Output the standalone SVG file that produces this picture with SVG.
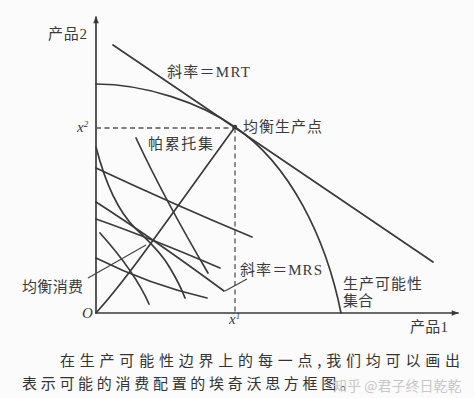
<svg xmlns="http://www.w3.org/2000/svg" width="474" height="398" viewBox="0 0 474 398">
<defs>
<style>
.ln{fill:none;stroke:#3a3a3a;stroke-width:1.7;stroke-linecap:round}
.thin{fill:none;stroke:#444;stroke-width:1.2}
.dash{fill:none;stroke:#555;stroke-width:1.3;stroke-dasharray:5 3.5}
.t{font-family:"Liberation Serif","Noto Sans CJK SC",serif;font-size:15px;fill:#3a3a3a}
.i{font-family:"Liberation Serif",serif;font-style:italic;font-size:15px;fill:#3a3a3a}
.cap{font-family:"Noto Sans CJK SC",sans-serif;font-size:15px;fill:#333}
.wm{font-family:"Noto Sans CJK SC",sans-serif;font-size:14px;fill:#c8c8c8}
</style>
<marker id="ah" viewBox="0 0 10 10" refX="9" refY="5" markerWidth="9" markerHeight="7" orient="auto" markerUnits="userSpaceOnUse">
<path d="M0,1 L10,5 L0,9 z" fill="#3a3a3a"/>
</marker>
</defs>
<rect width="474" height="398" fill="#fbfbfb"/>

<g id="axes">
<line class="ln" x1="96" y1="313" x2="96" y2="17" marker-end="url(#ah)"/>
<line class="ln" x1="96" y1="313" x2="458" y2="313" marker-end="url(#ah)"/>
<path class="dash" d="M96,128 H235 M235,128 V313"/>
</g>

<g id="frontier">
<path class="ln" d="M96,84 C146,84 201,103.3 235,127 C290,164.3 326,238 341,313"/>
<path class="ln" d="M113,45 L433,262"/>
<circle cx="235" cy="127" r="2.2" fill="#3a3a3a"/>
</g>

<g id="box-curves">
<path class="ln" d="M96,313 C130,275 160,230 235,127"/>
<path class="ln" d="M96,168 Q175,205 252,237"/>
<path class="ln" d="M136,138 Q165,200 208,273"/>
<path class="ln" d="M96,147 C104,178 115,208 135,228 C145,238 160,250 170,268 C176,278 182,290 185,298"/>
<path class="ln" d="M96,202 Q152,238 224,291"/>
<path class="ln" d="M96,219 Q150,238 220,268"/>
<path class="ln" d="M100,233 Q135,272 149,304"/>
<path class="ln" d="M96,258 Q150,285 207,298"/>
</g>

<g id="connectors">
<path class="thin" d="M88,278 L146,245"/>
<path class="thin" d="M225,291 L247,279"/>
</g>

<g id="labels">
<text class="t" x="48" y="39" textLength="39">产品2</text>
<text class="t" x="167" y="77" textLength="83">斜率＝MRT</text>
<text class="t" x="243" y="132" textLength="79">均衡生产点</text>
<text class="t" x="148" y="149" textLength="65">帕累托集</text>
<text class="t" x="22" y="292" textLength="61">均衡消费</text>
<text class="t" x="240" y="275" textLength="82">斜率＝MRS</text>
<text class="t" x="343" y="289" textLength="79">生产可能性</text>
<text class="t" x="343" y="306" textLength="30">集合</text>
<text class="t" x="410" y="332" textLength="38">产品1</text>
<text class="i" x="77" y="132">x<tspan font-size="9" dy="-5">2</tspan></text>
<text class="i" x="229" y="324">x<tspan font-size="9" dy="-5">1</tspan></text>
<text class="i" x="82" y="318">O</text>
</g>

<g id="caption">
<text class="cap" x="60" y="366" textLength="400">在生产可能性边界上的每一点,我们均可以画出</text>
<text class="cap" x="22" y="389" textLength="333">表示可能的消费配置的埃奇沃思方框图。</text>
<text class="wm" x="333" y="391">知乎 @君子终日乾乾</text>
</g>
</svg>
